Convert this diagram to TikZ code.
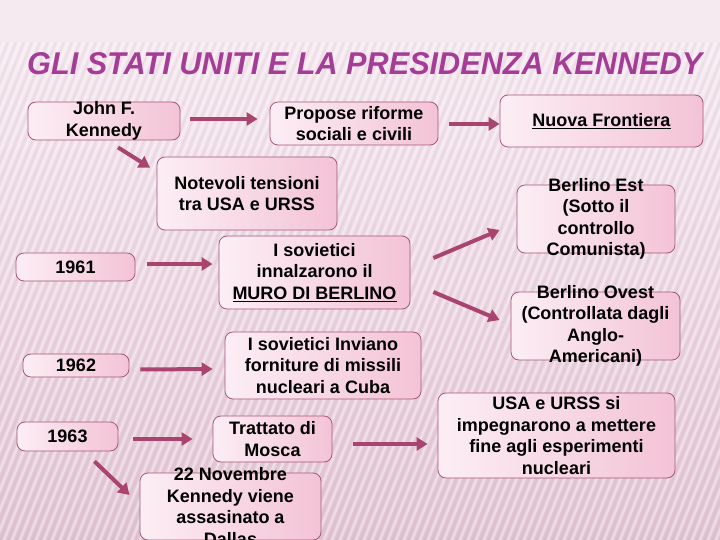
\documentclass[tikz,border=0pt]{standalone}
\usepackage{fontspec}
\setmainfont{Liberation Sans}
\usetikzlibrary{arrows.meta,calc}
\definecolor{bgtop}{RGB}{246,234,241}
\definecolor{bgbot}{RGB}{226,196,211}
\definecolor{titlecol}{RGB}{165,60,150}
\definecolor{arrcol}{RGB}{169,68,111}
\definecolor{boxline}{RGB}{168,86,122}
\definecolor{boxlight}{RGB}{252,238,244}
\definecolor{boxdark}{RGB}{243,195,214}
\tikzset{
  box/.style={draw=boxline, line width=0.8pt, rounded corners=8pt,
    left color=boxlight, right color=boxdark, inner sep=0pt},
  txt/.style={font=\bfseries\fontsize{18}{21.5}\selectfont, align=center, inner sep=0pt, text=black},
  arr/.style={draw=arrcol, line width=4pt, -{Triangle[length=11pt,width=13pt]}},
}
\begin{document}
\begin{tikzpicture}[x=1pt,y=-1pt]
\useasboundingbox (0,0) rectangle (720,540);
% background
\shade[top color=bgtop, bottom color=bgbot] (0,0) rectangle (720,540);
\fill[bgtop] (0,0) rectangle (720,42);
\begin{scope}
  \clip (0,42) rectangle (720,540);
  \foreach \i in {-260,-252,...,720}
    \draw[white, opacity=0.4, line width=2.5pt] (\i,540) -- (\i+200,42);
  \foreach \i in {-256,-248,...,720}
    \draw[bgbot!70!black, opacity=0.09, line width=1.5pt] (\i,540) -- (\i+200,42);
\end{scope}
% title
\node[anchor=base west, inner sep=0pt, text=titlecol] (title) at (27,75)
  {\resizebox{675pt}{22pt}{\itshape\bfseries GLI STATI UNITI E LA PRESIDENZA KENNEDY}};
% boxes
\node[box, minimum width=152pt, minimum height=38pt] (jfk) at (104,121) {};
\node[txt] (jfkt) at (jfk) {John F.\\Kennedy};
\node[box, minimum width=168pt, minimum height=43pt] (prop) at (354,123.5) {};
\node[txt] (propt) at (prop) {Propose riforme\\sociali e civili};
\node[box, minimum width=203pt, minimum height=52pt] (nf) at (601.5,121) {};
\node[txt] (nft) at (nf) {\underline{Nuova Frontiera}};
\node[box, minimum width=180pt, minimum height=73pt] (not) at (247,193.5) {};
\node[txt] (nott) at (not) {Notevoli tensioni\\tra USA e URSS};
\node[box, minimum width=119pt, minimum height=28pt] (y61) at (75.5,267) {};
\node[txt] (y61t) at (y61) {1961};
\node[box, minimum width=191pt, minimum height=73pt] (sov) at (314.5,272.5) {};
\node[txt] (sovt) at (sov) {I sovietici\\innalzarono il\\\underline{MURO DI BERLINO}};
\node[box, minimum width=158pt, minimum height=68pt] (be) at (596,219) {};
\node[txt] (bet) at (be) {Berlino Est\\(Sotto il\\controllo\\Comunista)};
\node[box, minimum width=169pt, minimum height=68pt] (bo) at (595.5,326) {};
\node[txt] (bot) at (bo) {Berlino Ovest\\(Controllata dagli\\Anglo-\\Americani)};
\node[box, minimum width=106pt, minimum height=23pt] (y62) at (76,365.5) {};
\node[txt] (y62t) at (y62) {1962};
\node[box, minimum width=196pt, minimum height=67pt] (inv) at (323,365.5) {};
\node[txt] (invt) at (inv) {I sovietici Inviano\\forniture di missili\\nucleari a Cuba};
\node[box, minimum width=101pt, minimum height=29pt] (y63) at (67.5,436.5) {};
\node[txt] (y63t) at (y63) {1963};
\node[box, minimum width=119pt, minimum height=46pt] (tm) at (272.5,439) {};
\node[txt] (tmt) at (tm) {Trattato di\\Mosca};
\node[box, minimum width=237pt, minimum height=85pt] (usa) at (556.5,435.5) {};
\node[txt] (usat) at (usa) {USA e URSS si\\impegnarono a mettere\\fine agli esperimenti\\nucleari};
\node[box, minimum width=181pt, minimum height=67pt] (nov) at (230.5,506.5) {};
\node[txt] (novt) at (nov) {22 Novembre\\Kennedy viene\\assasinato a\\Dallas};
% arrows
\draw[arr] ([shift={(10,-2)}]jfk.east) -- ([shift={(-12,-4.5)}]prop.west);
\draw[arr] ([shift={(11,0.5)}]prop.east) -- ([shift={(0,3)}]nf.west);
\draw[arr] ([shift={(14,7)}]jfk.south) -- ([shift={(-97,11)}]not.north);
\draw[arr] ([shift={(12,-3)}]y61.east) -- ([shift={(-6,-8.5)}]sov.west);
\draw[arr] ([shift={(23,-14.5)}]sov.east) -- ([shift={(-17,11)}]be.west);
\draw[arr] ([shift={(23,19.5)}]sov.east) -- ([shift={(-11,-6)}]bo.west);
\draw[arr] ([shift={(11,4)}]y62.east) -- ([shift={(-12,3.5)}]inv.west);
\draw[arr] ([shift={(15,2.5)}]y63.east) -- ([shift={(-20,0)}]tm.west);
\draw[arr] ([shift={(21,5)}]tm.east) -- ([shift={(-10,8.5)}]usa.west);
\draw[arr] ([shift={(27,10)}]y63.south) -- ([shift={(-10,-11.5)}]nov.west);
\end{tikzpicture}
\end{document}
